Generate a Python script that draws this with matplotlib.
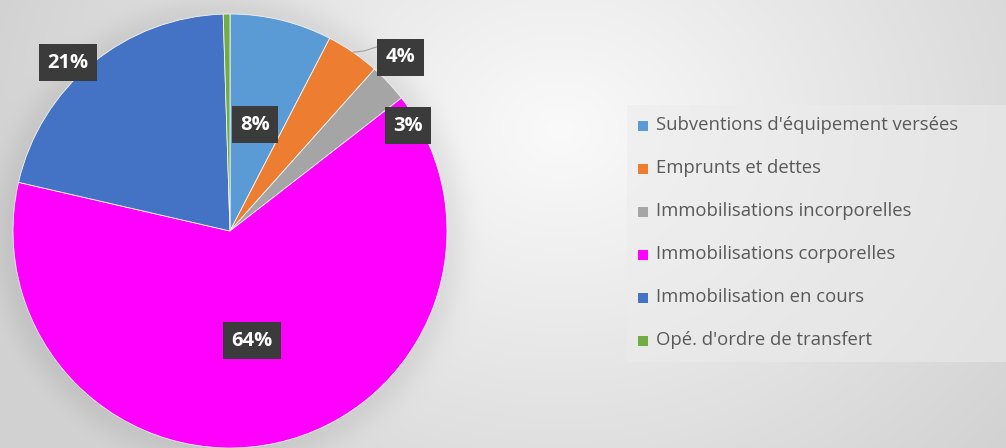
import numpy as np
import matplotlib
matplotlib.use('Agg')
from matplotlib import pyplot as plt
from matplotlib.patches import Rectangle

labels = ["Subventions d'équipement versées", "Emprunts et dettes",
          "Immobilisations incorporelles", "Immobilisations corporelles",
          "Immobilisation en cours", "Opé. d'ordre de transfert"]
values = [7.6, 4.0, 2.9, 64.1, 20.9, 0.5]
colors = ['#5B9BD5', '#ED7D31', '#A5A5A5', '#FF00FF', '#4472C4', '#70AD47']
pct_text = ['8%', '4%', '3%', '64%', '21%', '']
# where the data labels sit (axes data units, pie radius = 1)
label_pos = [(0.115, 0.49), (0.785, 0.80), (0.82, 0.485), (0.10, -0.505), (-0.745, 0.775), None]

W, H = 1006, 448
fig = plt.figure(figsize=(W / 100, H / 100), dpi=100)

# background: soft radial gradient
bg = fig.add_axes([0, 0, 1, 1])
yy, xx = np.mgrid[0:H, 0:W]
d = np.sqrt(((xx - 560) / 1.1) ** 2 + ((yy - 130) / 0.9) ** 2)
g = np.clip(250 - d * 0.075, 210, 250) / 255.0
# darker halo around the pie
dp = np.sqrt((xx - 230) ** 2 + (yy - 231) ** 2)
g = g - 0.06 * np.exp(-((dp - 217) / 20.0) ** 2) * (dp > 200)
bg.imshow(np.dstack([g, g, g]), extent=[0, W, H, 0], aspect='auto')
bg.add_patch(Rectangle((627, 105), W - 627, 257, color='#ececec', alpha=0.55, lw=0))
bg.set_xlim(0, W)
bg.set_ylim(H, 0)
bg.axis('off')

# pie
cx, cy, r = 230, 231, 217
ax = fig.add_axes([(cx - r) / W, (H - cy - r) / H, 2 * r / W, 2 * r / H])
wedges, _ = ax.pie(values, colors=colors, startangle=90, counterclock=False, radius=1,
                   wedgeprops=dict(edgecolor='#f4f4f4', linewidth=0.6))
ax.set_xlim(-1, 1)
ax.set_ylim(-1, 1)
ax.set_aspect('equal')

for w, t, pos in zip(wedges, pct_text, label_pos):
    if pos is None:
        continue
    ax.text(pos[0], pos[1], t, ha='center', va='center', color='white',
            fontsize=14.5, fontweight='bold', family='Open Sans',
            bbox=dict(boxstyle='square,pad=0.42', fc='#3b3b3b', ec='none'))

# leader line for the 4% label
w = wedges[1]
mid = np.deg2rad((w.theta1 + w.theta2) / 2)
ax.plot([np.cos(mid), 0.62, 0.68], [np.sin(mid), 0.83, 0.85], color='#a0a0a0', lw=0.8,
        clip_on=False, zorder=1)

# legend
ys = [125, 168, 211, 254, 297, 340]
for lab, col, y in zip(labels, colors, ys):
    bg.add_patch(Rectangle((638, y - 4), 10, 10, color=col, lw=0))
    bg.text(656, y, lab, ha='left', va='center', color='#595959',
            fontsize=13.3, family='Open Sans')

fig.savefig('out.png', dpi=100)
